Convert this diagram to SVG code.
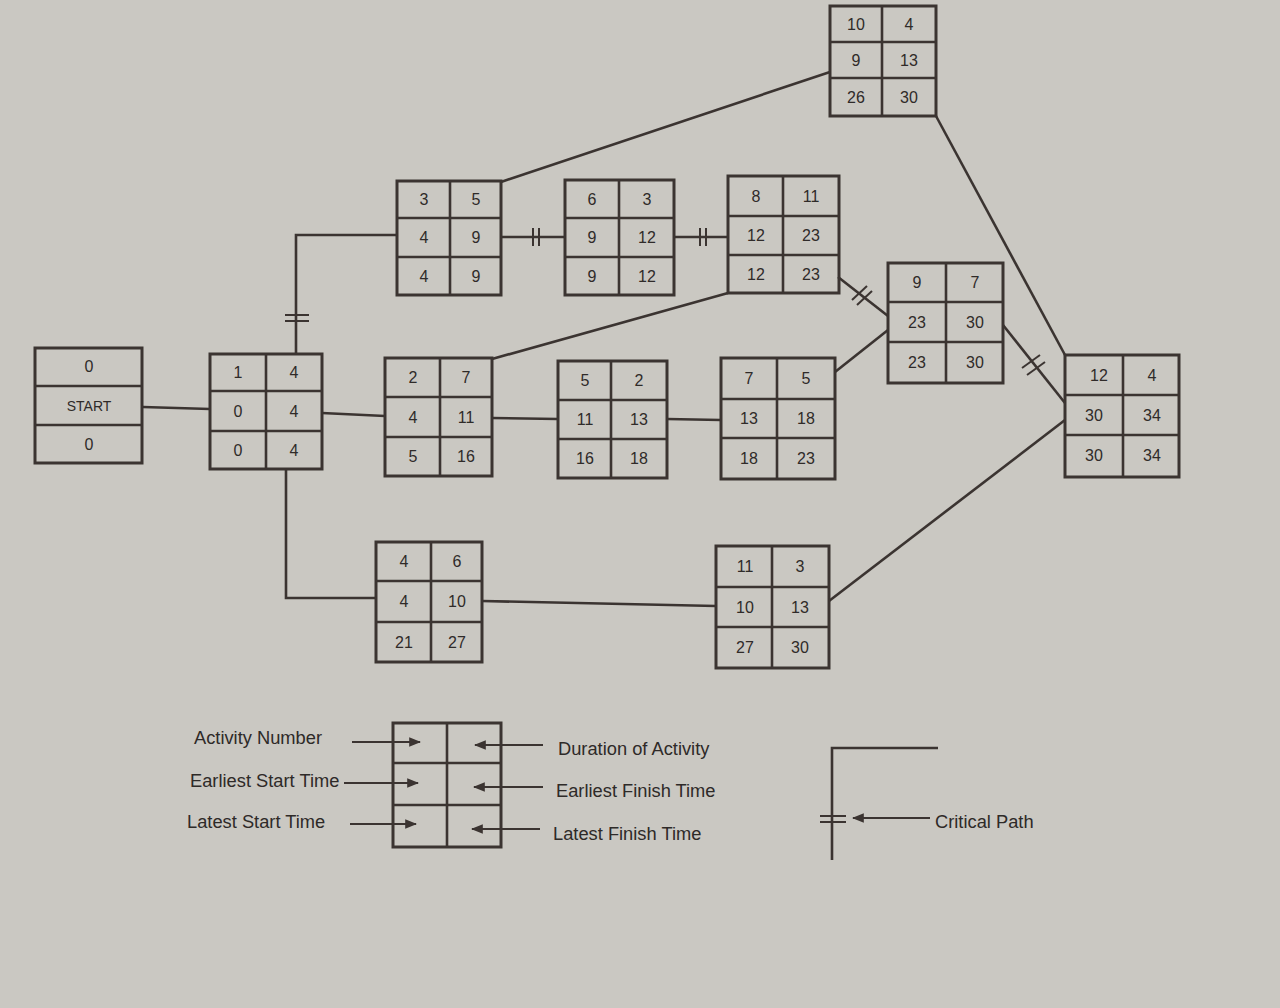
<svg xmlns="http://www.w3.org/2000/svg" width="1280" height="1008" viewBox="0 0 1280 1008">
<style>
.bg{fill:#cac8c2}
.box{fill:none;stroke:#3b3431;stroke-width:3}
.div{stroke:#3b3431;stroke-width:2.6}
.c{fill:none;stroke:#3b3431;stroke-width:2.6}
.t{stroke:#3b3431;stroke-width:2}
.n{font-family:"Liberation Sans",Arial,sans-serif;font-size:16px;fill:#2f2b29;text-anchor:middle}
.lg{font-family:"Liberation Sans",Arial,sans-serif;font-size:18.3px;fill:#2e2a28}
.ar{stroke:#3b3431;stroke-width:2;fill:none}
</style>
<defs>
<marker id="ah" viewBox="0 0 10 10" refX="9" refY="5" markerWidth="12" markerHeight="12" orient="auto" markerUnits="userSpaceOnUse">
<path d="M0,1 L10,5 L0,9 Z" fill="#3b3431"/>
</marker>
</defs>
<rect class="bg" x="0" y="0" width="1280" height="1008"/>

<g id="connectors">
<line class="c" x1="143" y1="407" x2="210" y2="409"/>
<polyline class="c" points="296,354 296,235 397,235"/>
<polyline class="c" points="286,469 286,598 376,598"/>
<line class="c" x1="322" y1="413" x2="385" y2="416"/>
<line class="c" x1="501" y1="237" x2="565" y2="237"/>
<line class="c" x1="674" y1="237" x2="728" y2="237"/>
<line class="c" x1="501" y1="182" x2="830" y2="72"/>
<line class="c" x1="492" y1="359" x2="728" y2="293"/>
<line class="c" x1="492" y1="418" x2="558" y2="419"/>
<line class="c" x1="667" y1="419" x2="721" y2="420"/>
<line class="c" x1="835" y1="372" x2="888" y2="330"/>
<line class="c" x1="838" y1="277" x2="888" y2="316"/>
<line class="c" x1="1003" y1="325" x2="1065" y2="403"/>
<line class="c" x1="936" y1="116" x2="1065" y2="355"/>
<line class="c" x1="829" y1="601" x2="1065" y2="420"/>
<line class="c" x1="482" y1="601" x2="716" y2="606"/>
<line class="t" x1="285" y1="315" x2="309" y2="315"/>
<line class="t" x1="285" y1="321" x2="309" y2="321"/>
<line class="t" x1="533" y1="228" x2="533" y2="246"/>
<line class="t" x1="539" y1="228" x2="539" y2="246"/>
<line class="t" x1="700" y1="228" x2="700" y2="246"/>
<line class="t" x1="706" y1="228" x2="706" y2="246"/>
<line class="t" x1="852" y1="300" x2="867" y2="286"/>
<line class="t" x1="857" y1="305" x2="872" y2="291"/>
<line class="t" x1="1022" y1="368" x2="1040" y2="355"/>
<line class="t" x1="1027" y1="375" x2="1045" y2="362"/>
</g>

<g id="start">
<rect class="box" x="35" y="348" width="107" height="115"/>
<line class="div" x1="35" y1="386" x2="142" y2="386"/>
<line class="div" x1="35" y1="425" x2="142" y2="425"/>
<text class="n" x="89" y="372">0</text>
<text class="n" x="89" y="411" style="font-size:14px">START</text>
<text class="n" x="89" y="450">0</text>
</g>

<g id="node1">
<rect class="box" x="210" y="354" width="112" height="115"/>
<line class="div" x1="266" y1="354" x2="266" y2="469"/>
<line class="div" x1="210" y1="391" x2="322" y2="391"/>
<line class="div" x1="210" y1="431" x2="322" y2="431"/>
<text class="n" x="238" y="378">1</text><text class="n" x="294" y="378">4</text>
<text class="n" x="238" y="417">0</text><text class="n" x="294" y="417">4</text>
<text class="n" x="238" y="456">0</text><text class="n" x="294" y="456">4</text>
</g>

<g id="node2">
<rect class="box" x="385" y="358" width="107" height="118"/>
<line class="div" x1="440" y1="358" x2="440" y2="476"/>
<line class="div" x1="385" y1="397" x2="492" y2="397"/>
<line class="div" x1="385" y1="437" x2="492" y2="437"/>
<text class="n" x="413" y="383">2</text><text class="n" x="466" y="383">7</text>
<text class="n" x="413" y="423">4</text><text class="n" x="466" y="423">11</text>
<text class="n" x="413" y="462">5</text><text class="n" x="466" y="462">16</text>
</g>

<g id="node3">
<rect class="box" x="397" y="181" width="104" height="114"/>
<line class="div" x1="450" y1="181" x2="450" y2="295"/>
<line class="div" x1="397" y1="218" x2="501" y2="218"/>
<line class="div" x1="397" y1="257" x2="501" y2="257"/>
<text class="n" x="424" y="205">3</text><text class="n" x="476" y="205">5</text>
<text class="n" x="424" y="243">4</text><text class="n" x="476" y="243">9</text>
<text class="n" x="424" y="282">4</text><text class="n" x="476" y="282">9</text>
</g>

<g id="node4">
<rect class="box" x="376" y="542" width="106" height="120"/>
<line class="div" x1="431" y1="542" x2="431" y2="662"/>
<line class="div" x1="376" y1="581" x2="482" y2="581"/>
<line class="div" x1="376" y1="622" x2="482" y2="622"/>
<text class="n" x="404" y="567">4</text><text class="n" x="457" y="567">6</text>
<text class="n" x="404" y="607">4</text><text class="n" x="457" y="607">10</text>
<text class="n" x="404" y="648">21</text><text class="n" x="457" y="648">27</text>
</g>

<g id="node5">
<rect class="box" x="558" y="361" width="109" height="117"/>
<line class="div" x1="611" y1="361" x2="611" y2="478"/>
<line class="div" x1="558" y1="400" x2="667" y2="400"/>
<line class="div" x1="558" y1="439" x2="667" y2="439"/>
<text class="n" x="585" y="386">5</text><text class="n" x="639" y="386">2</text>
<text class="n" x="585" y="425">11</text><text class="n" x="639" y="425">13</text>
<text class="n" x="585" y="464">16</text><text class="n" x="639" y="464">18</text>
</g>

<g id="node6">
<rect class="box" x="565" y="180" width="109" height="115"/>
<line class="div" x1="619" y1="180" x2="619" y2="295"/>
<line class="div" x1="565" y1="218" x2="674" y2="218"/>
<line class="div" x1="565" y1="257" x2="674" y2="257"/>
<text class="n" x="592" y="205">6</text><text class="n" x="647" y="205">3</text>
<text class="n" x="592" y="243">9</text><text class="n" x="647" y="243">12</text>
<text class="n" x="592" y="282">9</text><text class="n" x="647" y="282">12</text>
</g>

<g id="node7">
<rect class="box" x="721" y="358" width="114" height="121"/>
<line class="div" x1="777" y1="358" x2="777" y2="479"/>
<line class="div" x1="721" y1="399" x2="835" y2="399"/>
<line class="div" x1="721" y1="438" x2="835" y2="438"/>
<text class="n" x="749" y="384">7</text><text class="n" x="806" y="384">5</text>
<text class="n" x="749" y="424">13</text><text class="n" x="806" y="424">18</text>
<text class="n" x="749" y="464">18</text><text class="n" x="806" y="464">23</text>
</g>

<g id="node8">
<rect class="box" x="728" y="176" width="111" height="117"/>
<line class="div" x1="783" y1="176" x2="783" y2="293"/>
<line class="div" x1="728" y1="216" x2="839" y2="216"/>
<line class="div" x1="728" y1="255" x2="839" y2="255"/>
<text class="n" x="756" y="202">8</text><text class="n" x="811" y="202">11</text>
<text class="n" x="756" y="241">12</text><text class="n" x="811" y="241">23</text>
<text class="n" x="756" y="280">12</text><text class="n" x="811" y="280">23</text>
</g>

<g id="node9">
<rect class="box" x="888" y="263" width="115" height="120"/>
<line class="div" x1="946" y1="263" x2="946" y2="383"/>
<line class="div" x1="888" y1="302" x2="1003" y2="302"/>
<line class="div" x1="888" y1="342" x2="1003" y2="342"/>
<text class="n" x="917" y="288">9</text><text class="n" x="975" y="288">7</text>
<text class="n" x="917" y="328">23</text><text class="n" x="975" y="328">30</text>
<text class="n" x="917" y="368">23</text><text class="n" x="975" y="368">30</text>
</g>

<g id="node10">
<rect class="box" x="830" y="6" width="106" height="110"/>
<line class="div" x1="882" y1="6" x2="882" y2="116"/>
<line class="div" x1="830" y1="42" x2="936" y2="42"/>
<line class="div" x1="830" y1="78" x2="936" y2="78"/>
<text class="n" x="856" y="30">10</text><text class="n" x="909" y="30">4</text>
<text class="n" x="856" y="66">9</text><text class="n" x="909" y="66">13</text>
<text class="n" x="856" y="103">26</text><text class="n" x="909" y="103">30</text>
</g>

<g id="node11">
<rect class="box" x="716" y="546" width="113" height="122"/>
<line class="div" x1="772" y1="546" x2="772" y2="668"/>
<line class="div" x1="716" y1="587" x2="829" y2="587"/>
<line class="div" x1="716" y1="627" x2="829" y2="627"/>
<text class="n" x="745" y="572">11</text><text class="n" x="800" y="572">3</text>
<text class="n" x="745" y="613">10</text><text class="n" x="800" y="613">13</text>
<text class="n" x="745" y="653">27</text><text class="n" x="800" y="653">30</text>
</g>

<g id="node12">
<rect class="box" x="1065" y="355" width="114" height="122"/>
<line class="div" x1="1123" y1="355" x2="1123" y2="477"/>
<line class="div" x1="1065" y1="395" x2="1179" y2="395"/>
<line class="div" x1="1065" y1="435" x2="1179" y2="435"/>
<text class="n" x="1099" y="381">12</text><text class="n" x="1152" y="381">4</text>
<text class="n" x="1094" y="421">30</text><text class="n" x="1152" y="421">34</text>
<text class="n" x="1094" y="461">30</text><text class="n" x="1152" y="461">34</text>
</g>

<g id="legend">
<rect class="box" x="393" y="723" width="108" height="124"/>
<line class="div" x1="447" y1="723" x2="447" y2="847"/>
<line class="div" x1="393" y1="763" x2="501" y2="763"/>
<line class="div" x1="393" y1="805" x2="501" y2="805"/>
<text class="lg" x="194" y="744">Activity Number</text>
<text class="lg" x="190" y="787">Earliest Start Time</text>
<text class="lg" x="187" y="828">Latest Start Time</text>
<text class="lg" x="558" y="755">Duration of Activity</text>
<text class="lg" x="556" y="797">Earliest Finish Time</text>
<text class="lg" x="553" y="840">Latest Finish Time</text>
<line class="ar" x1="352" y1="742" x2="420" y2="742" marker-end="url(#ah)"/>
<line class="ar" x1="344" y1="783" x2="418" y2="783" marker-end="url(#ah)"/>
<line class="ar" x1="350" y1="824" x2="416" y2="824" marker-end="url(#ah)"/>
<line class="ar" x1="543" y1="745" x2="475" y2="745" marker-end="url(#ah)"/>
<line class="ar" x1="543" y1="787" x2="474" y2="787" marker-end="url(#ah)"/>
<line class="ar" x1="540" y1="829" x2="472" y2="829" marker-end="url(#ah)"/>
</g>

<g id="critical-legend">
<polyline class="c" points="938,748 832,748 832,860"/>
<line class="t" x1="820" y1="816" x2="846" y2="816"/>
<line class="t" x1="820" y1="822" x2="846" y2="822"/>
<line class="ar" x1="930" y1="818" x2="853" y2="818" marker-end="url(#ah)"/>
<text class="lg" x="935" y="828">Critical Path</text>
</g>
</svg>
